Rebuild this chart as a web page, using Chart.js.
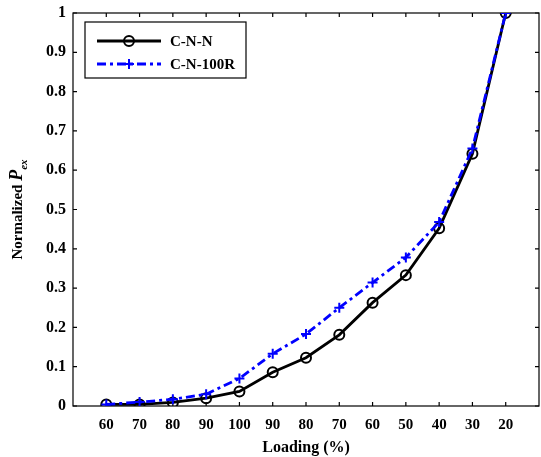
<!DOCTYPE html>
<html lang="en">
<head>
<meta charset="UTF-8">
<title>Normalized Pex vs Loading</title>
<script src="https://cdn.jsdelivr.net/npm/chart.js"></script>
<style>
  html, body { margin: 0; padding: 0; background: #fff; }
</style>
</head>
<body>
<canvas id="pexChart" width="541" height="457"></canvas>
<script>
// loading sequence (up then down), and the two series
const loadingLabels = ['60', '70', '80', '90', '100', '90', '80', '70', '60', '50', '40', '30', '20'];
const cnnValues    = [0.004, 0.004, 0.009, 0.020, 0.037, 0.086, 0.123, 0.181, 0.263, 0.333, 0.452, 0.642, 1.0];
const cn100rValues = [0.004, 0.010, 0.017, 0.030, 0.070, 0.133, 0.183, 0.250, 0.314, 0.378, 0.468, 0.655, 1.0];
const yTickValues  = [0, 0.1, 0.2, 0.3, 0.4, 0.5, 0.6, 0.7, 0.8, 0.9, 1];

const FONT = '"Liberation Serif", "Times New Roman", serif';

function toPoints(vals) {
    return vals.map((v, i) => ({ x: i + 1, y: v }));
}

// box round the axes with inward ticks, like matlab
const frameTicks = {
    id: 'frameTicks',
    beforeDatasetsDraw(chart) {
        const { ctx, chartArea: a, scales } = chart;
        const xs = scales.x, ys = scales.y;
        ctx.save();
        ctx.strokeStyle = '#000';
        ctx.lineWidth = 1.2;
        ctx.strokeRect(a.left, a.top, a.right - a.left, a.bottom - a.top);
        ctx.beginPath();
        loadingLabels.forEach((lab, i) => {
            const px = xs.getPixelForValue(i + 1);
            ctx.moveTo(px, a.bottom); ctx.lineTo(px, a.bottom - 4);
            ctx.moveTo(px, a.top); ctx.lineTo(px, a.top + 4);
        });
        yTickValues.forEach(v => {
            const py = ys.getPixelForValue(v);
            ctx.moveTo(a.left, py); ctx.lineTo(a.left + 4, py);
            ctx.moveTo(a.right, py); ctx.lineTo(a.right - 4, py);
        });
        ctx.stroke();
        ctx.restore();
    }
};

// y label with italic P and subscript ex
const yLabel = {
    id: 'yLabel',
    afterDraw(chart) {
        const { ctx, chartArea: a } = chart;
        const parts = [
            { t: 'Normalized ', f: 'bold 15px ' + FONT, dy: 0 },
            { t: 'P', f: 'italic bold 18px ' + FONT, dy: 0 },
            { t: 'ex', f: 'italic bold 11px ' + FONT, dy: 5 }
        ];
        ctx.save();
        let total = 0;
        parts.forEach(p => { ctx.font = p.f; p.w = ctx.measureText(p.t).width; total += p.w; });
        ctx.translate(22, (a.top + a.bottom) / 2);
        ctx.rotate(-Math.PI / 2);
        ctx.fillStyle = '#000';
        ctx.textBaseline = 'alphabetic';
        let x = -total / 2;
        parts.forEach(p => {
            ctx.font = p.f;
            ctx.fillText(p.t, x, p.dy);
            x += p.w;
        });
        ctx.restore();
    }
};

// boxed legend inside the axes
const boxLegend = {
    id: 'boxLegend',
    afterDraw(chart) {
        const { ctx } = chart;
        const bx = 85, by = 22, bw = 161, bh = 56;
        ctx.save();
        ctx.fillStyle = '#fff';
        ctx.fillRect(bx, by, bw, bh);
        ctx.strokeStyle = '#000';
        ctx.lineWidth = 1.2;
        ctx.strokeRect(bx, by, bw, bh);
        const rows = [chart.data.datasets[0], chart.data.datasets[1]];
        rows.forEach((ds, i) => {
            const ly = by + 19 + i * 23;
            ctx.strokeStyle = ds.borderColor;
            ctx.lineWidth = ds.borderWidth;
            ctx.setLineDash(ds.borderDash || []);
            ctx.beginPath();
            ctx.moveTo(bx + 12, ly); ctx.lineTo(bx + 76, ly);
            ctx.stroke();
            ctx.setLineDash([]);
            const cx = bx + 44;
            ctx.beginPath();
            if (ds.pointStyle === 'circle') {
                ctx.arc(cx, ly, ds.pointRadius, 0, Math.PI * 2);
            } else {
                ctx.moveTo(cx - ds.pointRadius, ly); ctx.lineTo(cx + ds.pointRadius, ly);
                ctx.moveTo(cx, ly - ds.pointRadius); ctx.lineTo(cx, ly + ds.pointRadius);
            }
            ctx.lineWidth = ds.pointBorderWidth;
            ctx.stroke();
            ctx.fillStyle = '#000';
            ctx.font = 'bold 15px ' + FONT;
            ctx.textBaseline = 'middle';
            ctx.fillText(ds.label, bx + 85, ly + 1);
        });
        ctx.restore();
    }
};

const ctx = document.getElementById('pexChart').getContext('2d');
const pexChart = new Chart(ctx, {
    type: 'line',
    data: {
        datasets: [
            {
                label: 'C-N-N',
                data: toPoints(cnnValues),
                borderColor: '#000000',
                borderWidth: 2.8,
                pointStyle: 'circle',
                pointRadius: 5,
                pointBorderWidth: 2,
                pointBackgroundColor: 'rgba(0,0,0,0)',
                pointBorderColor: '#000000',
                fill: false,
                tension: 0,
                order: 2
            },
            {
                label: 'C-N-100R',
                data: toPoints(cn100rValues),
                borderColor: '#0000ff',
                borderWidth: 2.8,
                borderDash: [9, 4, 3, 4],
                pointStyle: 'cross',
                pointRadius: 5,
                pointBorderWidth: 2,
                pointBorderColor: '#0000ff',
                fill: false,
                tension: 0,
                order: 1
            }
        ]
    },
    options: {
        responsive: false,
        devicePixelRatio: 1,
        animation: false,
        layout: { autoPadding: false, padding: { top: 13, right: 2, left: 0, bottom: 0 } },
        plugins: { legend: { display: false }, tooltip: { enabled: false } },
        scales: {
            x: {
                type: 'linear',
                min: 0,
                max: 14,
                grid: { display: false, drawTicks: false },
                border: { display: false },
                ticks: {
                    stepSize: 1,
                    autoSkip: false,
                    maxRotation: 0,
                    padding: 10,
                    color: '#000',
                    font: { family: FONT, size: 15, weight: 'bold' },
                    callback: v => loadingLabels[v - 1] || ''
                },
                title: {
                    display: true,
                    text: 'Loading (%)',
                    color: '#000',
                    font: { family: FONT, size: 16, weight: 'bold' },
                    padding: { top: 6, bottom: 0 }
                },
                afterFit: s => { s.height = 51; s.paddingLeft = 0; s.paddingRight = 0; }
            },
            y: {
                min: 0,
                max: 1,
                grid: { display: false, drawTicks: false },
                border: { display: false },
                ticks: {
                    stepSize: 0.1,
                    padding: 7,
                    color: '#000',
                    font: { family: FONT, size: 16, weight: 'bold' },
                    callback: v => String(Math.round(v * 10) / 10)
                },
                afterFit: s => { s.width = 73; s.paddingTop = 0; s.paddingBottom = 0; }
            }
        }
    },
    plugins: [frameTicks, yLabel, boxLegend]
});
</script>
</body>
</html>
